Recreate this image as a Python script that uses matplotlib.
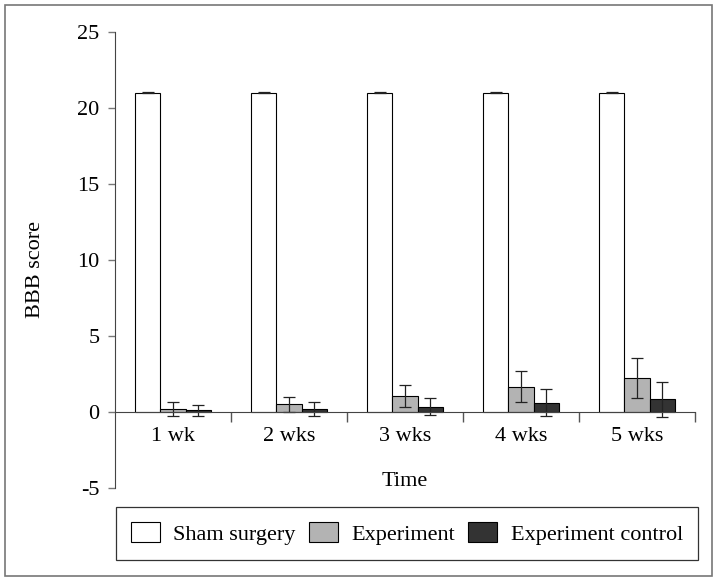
import matplotlib
matplotlib.use('Agg')
import matplotlib.pyplot as plt
import numpy as np
from matplotlib.patches import Rectangle

plt.rcParams['font.family'] = ['Liberation Serif', 'DejaVu Serif']

# Data
weeks = ['1 wk', '2 wks', '3 wks', '4 wks', '5 wks']
sham = [21.0, 21.0, 21.0, 21.0, 21.0]
sham_err = [0.03, 0.03, 0.03, 0.03, 0.03]
experiment = [0.2, 0.5, 1.05, 1.65, 2.25]
experiment_err = [0.48, 0.48, 0.75, 1.02, 1.33]
control = [0.1, 0.2, 0.35, 0.62, 0.83]
control_err = [0.37, 0.47, 0.56, 0.88, 1.15]

fig = plt.figure(figsize=(7.17, 5.81), dpi=100)
ax = fig.add_axes([0.1604, 0.1601, 0.8089, 0.7848])

x = np.arange(len(weeks)) + 0.5
w = 0.216
err_kw = dict(ecolor='#222222', elinewidth=0.9, capsize=4.3, capthick=0.9)
ax.bar(x - w, sham, w, yerr=sham_err, color='white', edgecolor='black',
       linewidth=0.8, label='Sham surgery', error_kw=err_kw)
ax.bar(x, experiment, w, yerr=experiment_err, color='#b3b3b3', edgecolor='black',
       linewidth=0.8, label='Experiment', error_kw=err_kw)
ax.bar(x + w, control, w, yerr=control_err, color='#333333', edgecolor='black',
       linewidth=0.8, label='Experiment control', error_kw=err_kw)

ax.set_xlim(0, len(weeks))
ax.set_ylim(-5, 25)
ax.set_yticks([-5, 0, 5, 10, 15, 20, 25])
ax.set_yticklabels(['-5', '0', '5', '10', '15', '20', '25'], fontsize=16)
ax.tick_params(axis='y', length=5, width=1, color='#777777', pad=6)

ax.spines['top'].set_visible(False)
ax.spines['right'].set_visible(False)
ax.spines['left'].set_color('#444444')
ax.spines['bottom'].set_position(('data', 0))
ax.spines['bottom'].set_color('#444444')

# category separators as major ticks, labels as minor ticks
ax.set_xticks(np.arange(1, len(weeks) + 1))
ax.set_xticklabels([])
ax.tick_params(axis='x', which='major', direction='out', length=7, width=1, color='#555555')
ax.set_xticks(x, minor=True)
ax.set_xticklabels(weeks, minor=True, fontsize=16)
ax.tick_params(axis='x', which='minor', length=0, pad=11)

ax.set_xlabel('Time', fontsize=16)
ax.xaxis.set_label_coords(0.5, 0.035)
ax.set_ylabel('BBB score', fontsize=16)
ax.yaxis.set_label_coords(-0.12, 0.48)

handles, labels = ax.get_legend_handles_labels()
leg = fig.legend(handles, labels, loc='center', ncol=3, fontsize=16,
                 bbox_to_anchor=(0.5676, 0.0818), frameon=True, fancybox=False,
                 edgecolor='black', handlelength=1.3, handleheight=1.0,
                 handletextpad=0.6, columnspacing=0.6, borderpad=0.7,
                 borderaxespad=0.0)
leg.get_frame().set_linewidth(0.9)

fig.add_artist(Rectangle((0.007, 0.009), 0.986, 0.982, transform=fig.transFigure,
                         fill=False, edgecolor='#777777', linewidth=1.2))

fig.savefig('out.png', dpi=100)
